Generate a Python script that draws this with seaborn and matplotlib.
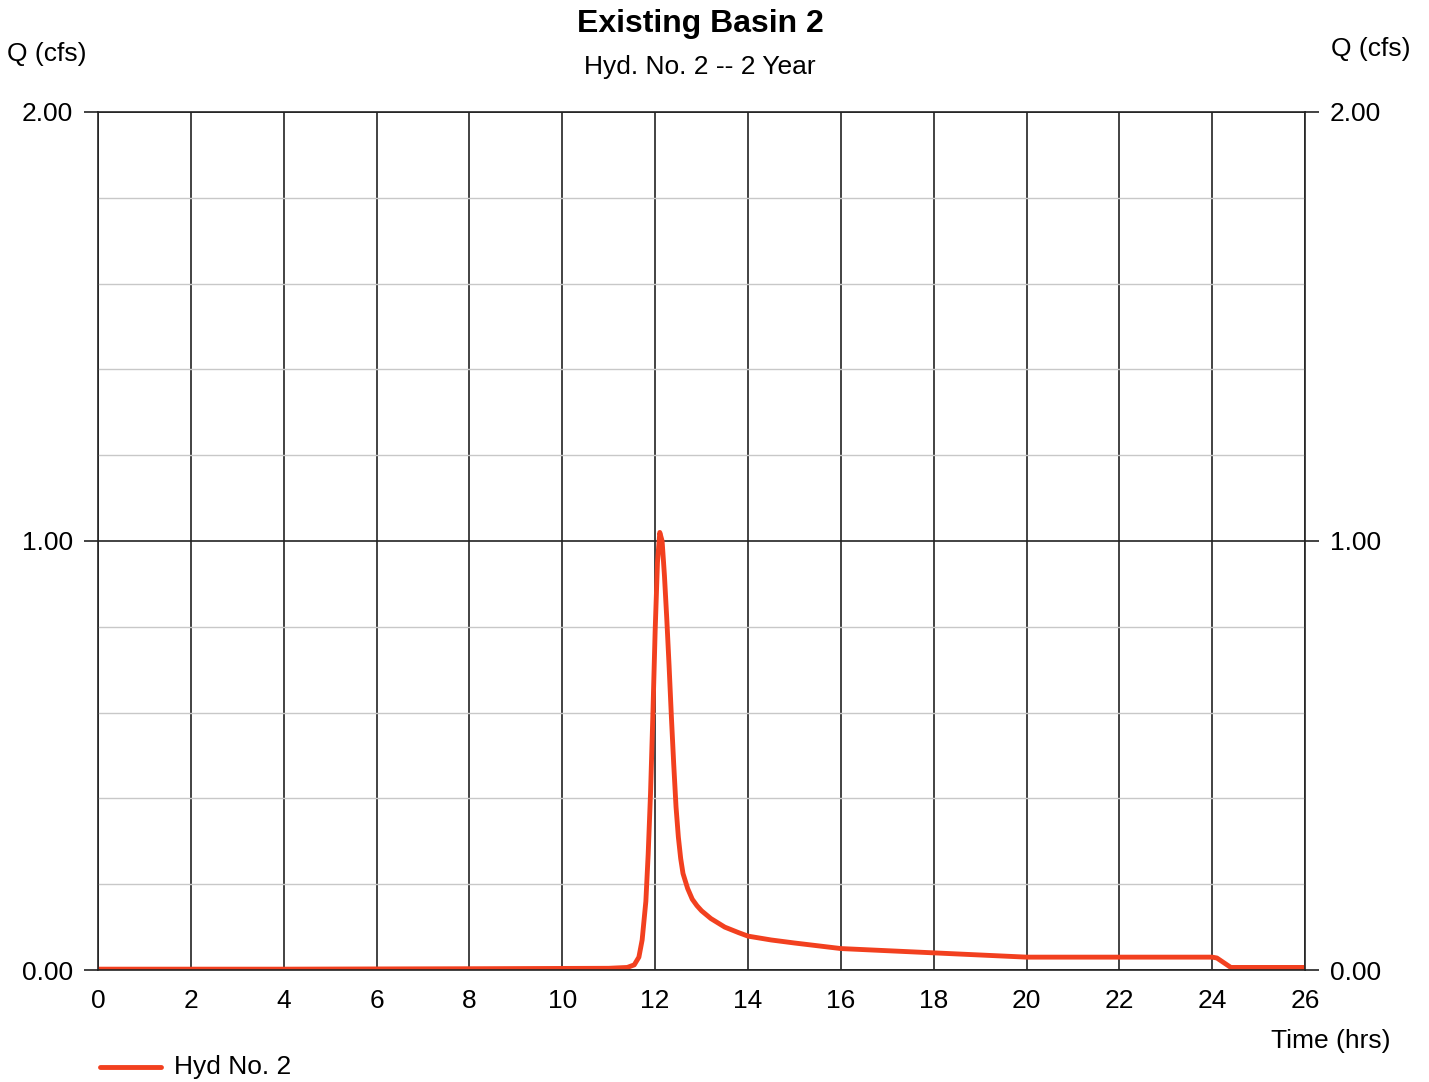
import numpy as np
import pandas as pd
import matplotlib
matplotlib.use("Agg")
import matplotlib.pyplot as plt
import seaborn as sns
from matplotlib.ticker import MultipleLocator

# hydrograph values
time_hrs = [0, 4, 8, 11.0, 11.4, 11.55, 11.65, 11.72, 11.8, 11.85, 11.9, 11.95, 12.0,
            12.05, 12.1, 12.15, 12.2, 12.25, 12.3, 12.35, 12.4, 12.45, 12.5, 12.55,
            12.6, 12.7, 12.8, 12.9, 13.0, 13.2, 13.5, 13.8, 14.0, 14.5, 15.0, 16.0,
            17.0, 18.0, 19.0, 20.0, 22.0, 24.0, 24.1, 24.4, 26.0]
flow_cfs = [0.002, 0.002, 0.003, 0.004, 0.006, 0.012, 0.03, 0.07, 0.16, 0.27, 0.41, 0.59, 0.79,
            0.95, 1.02, 1.00, 0.92, 0.82, 0.71, 0.59, 0.48, 0.38, 0.31, 0.26,
            0.225, 0.19, 0.165, 0.15, 0.138, 0.12, 0.10, 0.087, 0.079, 0.07, 0.063, 0.05,
            0.045, 0.04, 0.035, 0.03, 0.03, 0.03, 0.028, 0.006, 0.006]
x_ticks = list(range(0, 27, 2))
y_ticks = [0.0, 1.0, 2.0]

sns.set_style("white")
plt.rcParams['font.family'] = ['Liberation Sans', 'DejaVu Sans']
plt.rcParams['text.color'] = 'black'
plt.rcParams['xtick.color'] = 'black'
plt.rcParams['ytick.color'] = 'black'

df = pd.DataFrame({'Time (hrs)': time_hrs, 'Q (cfs)': flow_cfs})

fig = plt.figure(figsize=(14.29, 10.82), dpi=100, facecolor='white')
ax = fig.add_axes([0.0686, 0.1035, 0.8447, 0.793])

# grid: light minor lines every 0.2, dark majors
ax.yaxis.set_minor_locator(MultipleLocator(0.2))
ax.grid(which='minor', axis='y', color='#c8c8c8', linewidth=1.0)
ax.grid(which='major', axis='both', color='#222222', linewidth=1.2)
ax.set_axisbelow(True)

sns.lineplot(data=df, x='Time (hrs)', y='Q (cfs)', color='#f2401f', linewidth=3.5,
             ax=ax, label='Hyd No. 2', legend=False)

ax.set_xlim(0, 26)
ax.set_ylim(0, 2)
ax.set_xticks(x_ticks)
ax.set_yticks(y_ticks)
ax.set_yticklabels([f'{v:.2f}' for v in y_ticks])
ax.set_xlabel('')
ax.set_ylabel('')
ax.tick_params(axis='x', length=0, pad=14, labelsize=19)
ax.tick_params(axis='y', which='major', length=10, width=1.2, color='#222222',
               labelsize=19, left=True, right=True, labelright=True, pad=8)
ax.tick_params(axis='y', which='minor', length=0)
for s in ax.spines.values():
    s.set_color('#222222')
    s.set_linewidth(1.2)

fig.text(0.49, 0.978, 'Existing Basin 2', ha='center', va='center', fontsize=23, fontweight='bold')
fig.text(0.49, 0.938, 'Hyd. No. 2 -- 2 Year', ha='center', va='center', fontsize=19)
fig.text(0.005, 0.95, 'Q (cfs)', ha='left', va='center', fontsize=19)
fig.text(0.987, 0.955, 'Q (cfs)', ha='right', va='center', fontsize=19)
fig.text(0.973, 0.038, 'Time (hrs)', ha='right', va='center', fontsize=19)

fig.lines.append(plt.Line2D([0.07, 0.113], [0.0135, 0.0135], transform=fig.transFigure,
                            color='#f2401f', linewidth=3.5))
fig.text(0.122, 0.0135, 'Hyd No. 2', ha='left', va='center', fontsize=19)

plt.savefig('out.png', dpi=100, facecolor='white')
